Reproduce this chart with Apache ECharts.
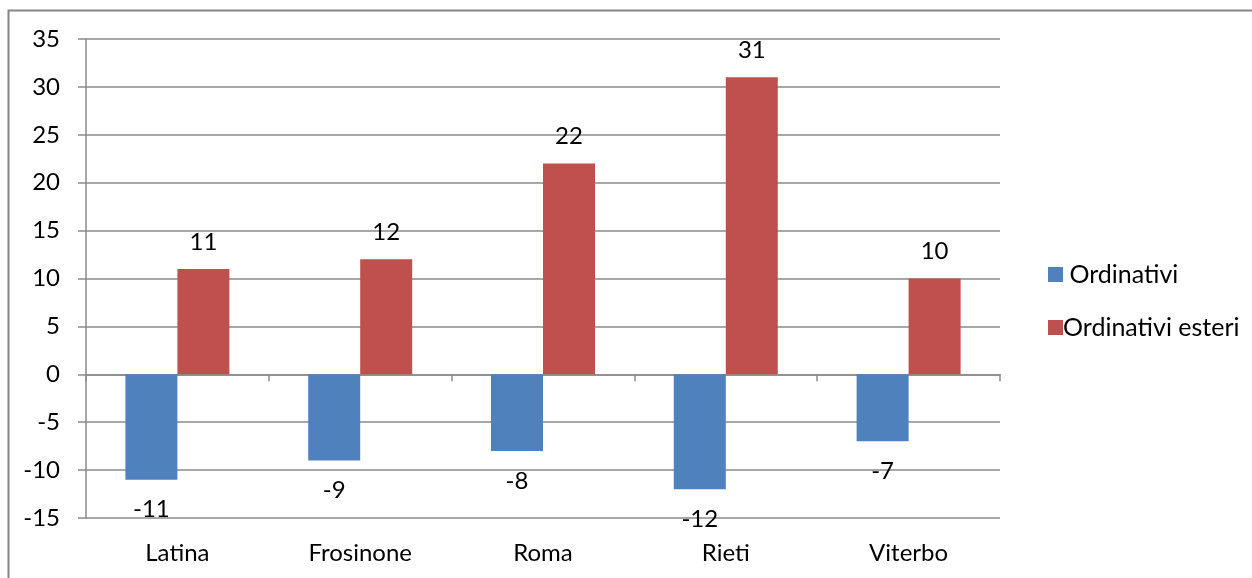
<!DOCTYPE html>
<html>
<head>
<meta charset="utf-8">
<style>
  html, body { margin: 0; padding: 0; background: #ffffff; }
  #chart { width: 1252px; height: 578px; }
</style>
<script src="https://cdn.jsdelivr.net/npm/echarts@6/dist/echarts.min.js"></script>
</head>
<body>
<div id="chart"></div>
<script>
// Provinces of Lazio and the two balances per province
const categories = ['Latina', 'Frosinone', 'Roma', 'Rieti', 'Viterbo'];
const ordinativi = [-11, -9, -8, -12, -7];
const ordinativiEsteri = [11, 12, 22, 31, 10];
const seriesNames = ['Ordinativi', 'Ordinativi esteri'];
const yTicks = { min: -15, max: 35, step: 5 };

const FONT = 'Lato, "Open Sans", sans-serif';
const FONT_SIZE = 24;
const GRID_GREY = '#8a8a8a';
const TEXT = '#000000';

const chart = echarts.init(document.getElementById('chart'), null, { renderer: 'canvas' });

chart.setOption({
  animation: false,
  backgroundColor: '#ffffff',
  textStyle: { fontFamily: FONT, color: TEXT },
  graphic: [
    {
      // frame around the chart area (open to the right and bottom)
      type: 'rect',
      silent: true,
      shape: { x: 8.5, y: 10.5, width: 1400, height: 700 },
      style: { fill: null, stroke: '#868686', lineWidth: 2 }
    }
  ],
  grid: { left: 86, top: 39, right: 252, bottom: 60, containLabel: false },
  legend: {
    orient: 'vertical',
    left: 1043,
    top: 257,
    itemWidth: 15,
    itemHeight: 15,
    itemGap: 28,
    icon: 'rect',
    data: seriesNames,
    formatter: function (name) { return name === seriesNames[0] ? ' ' + name : name; },
    textStyle: { fontFamily: FONT, fontSize: 25, color: TEXT, padding: [0, 0, 0, -5] }
  },
  xAxis: [
    {
      // axis line through zero with boundary ticks
      type: 'category',
      data: categories,
      position: 'bottom',
      axisLine: { onZero: true, lineStyle: { color: GRID_GREY, width: 1.5 } },
      axisTick: { show: true, length: 7, alignWithLabel: false, lineStyle: { color: GRID_GREY, width: 1.5 } },
      axisLabel: { show: false },
      splitLine: { show: false }
    },
    {
      // category names along the bottom edge
      type: 'category',
      data: categories,
      position: 'bottom',
      axisLine: { show: false, onZero: false },
      axisTick: { show: false },
      axisLabel: { show: true, margin: 23, fontFamily: FONT, fontSize: FONT_SIZE, color: TEXT },
      splitLine: { show: false }
    }
  ],
  yAxis: {
    type: 'value',
    min: yTicks.min,
    max: yTicks.max,
    interval: yTicks.step,
    axisLine: { show: true, lineStyle: { color: GRID_GREY, width: 1.5 } },
    axisTick: { show: true, inside: false, length: 8, lineStyle: { color: GRID_GREY, width: 1.5 } },
    axisLabel: { margin: 26, fontFamily: FONT, fontSize: FONT_SIZE, color: TEXT },
    splitLine: { show: true, lineStyle: { color: GRID_GREY, width: 1.5 } }
  },
  series: [
    {
      name: seriesNames[0],
      type: 'bar',
      xAxisIndex: 0,
      data: ordinativi,
      barWidth: 52,
      barGap: '0%',
      itemStyle: { color: '#4F81BD' },
      label: {
        show: true,
        position: 'bottom',
        distance: 18,
        fontFamily: FONT,
        fontSize: FONT_SIZE,
        color: TEXT
      }
    },
    {
      name: seriesNames[1],
      type: 'bar',
      xAxisIndex: 0,
      data: ordinativiEsteri,
      barWidth: 52,
      barGap: '0%',
      itemStyle: { color: '#C0504D' },
      label: {
        show: true,
        position: 'top',
        distance: 15,
        fontFamily: FONT,
        fontSize: FONT_SIZE,
        color: TEXT
      }
    }
  ]
});
</script>
</body>
</html>
